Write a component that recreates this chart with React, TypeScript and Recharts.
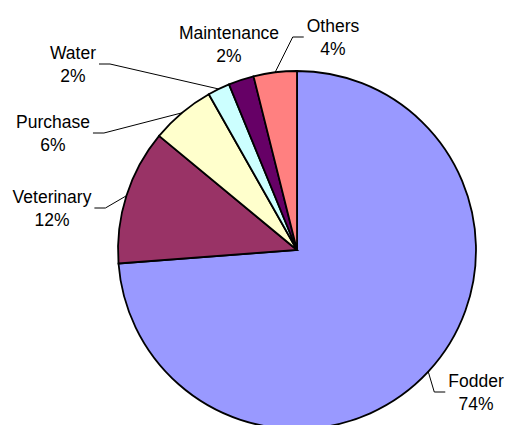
import { PieChart, Pie, Cell } from "recharts";

const categories = ["Fodder", "Veterinary", "Purchase", "Water", "Maintenance", "Others"];
const shares = [73.8, 12.2, 5.8, 2.0, 2.3, 3.9];
const colors = ["#9999FF", "#993366", "#FFFFCC", "#CCFFFF", "#660066", "#FF8080"];

// where Excel's dragged labels ended up, relative to the pie centre
const labelSpots = [
  { dx: 179, dy: 142, leader: true },
  { dx: -245, dy: -42, leader: true },
  { dx: -244, dy: -117, leader: true },
  { dx: -224, dy: -186, leader: true },
  { dx: -68, dy: -206, leader: false },
  { dx: 36, dy: -213, leader: true },
];

const data = categories.map((name, i) => ({ name, value: shares[i] }));

const FONT = "'Liberation Sans', Arial, sans-serif";
const FONT_SIZE = 17.5;

let ctx: CanvasRenderingContext2D | null = null;
function textWidth(s: string) {
  if (!ctx) ctx = document.createElement("canvas").getContext("2d");
  if (!ctx) return s.length * FONT_SIZE * 0.55;
  ctx.font = `${FONT_SIZE}px ${FONT}`;
  return ctx.measureText(s).width;
}

function renderLabel(props: any) {
  const { cx, cy, midAngle, outerRadius, index, percent } = props;
  const spot = labelSpots[index];
  const lx = cx + spot.dx;
  const ly = cy + spot.dy;
  const name = categories[index];
  const pct = `${Math.round(percent * 100)}%`;
  const halfW = Math.max(textWidth(name), textWidth(pct)) / 2;
  const rad = Math.PI / 180;
  const sx = cx + outerRadius * Math.cos(-midAngle * rad);
  const sy = cy + outerRadius * Math.sin(-midAngle * rad);
  const dir = lx > sx ? 1 : -1;
  const ex = lx - dir * (halfW + 3);
  const bx = ex - dir * 11;
  return (
    <g key={`lbl-${index}`}>
      {spot.leader && (
        <polyline
          points={`${sx},${sy} ${bx},${ly} ${ex},${ly}`}
          fill="none"
          stroke="#000"
          strokeWidth={1}
        />
      )}
      <text
        x={lx}
        y={ly - 11.5}
        textAnchor="middle"
        dominantBaseline="central"
        fontFamily={FONT}
        fontSize={FONT_SIZE}
        fill="#000"
      >
        {name}
      </text>
      <text
        x={lx}
        y={ly + 11.5}
        textAnchor="middle"
        dominantBaseline="central"
        fontFamily={FONT}
        fontSize={FONT_SIZE}
        fill="#000"
      >
        {pct}
      </text>
    </g>
  );
}

export default function App() {
  return (
    <div style={{ position: "absolute", left: 0, top: 0, width: 508, height: 425, background: "#fff" }}>
      <PieChart width={508} height={425} margin={{ top: 0, right: 0, bottom: 0, left: 0 }}>
        <Pie
          data={data}
          dataKey="value"
          nameKey="name"
          cx={297}
          cy={250}
          outerRadius={179}
          startAngle={90}
          endAngle={-270}
          stroke="#000"
          strokeWidth={1.8}
          label={renderLabel}
          labelLine={false}
          isAnimationActive={false}
        >
          {data.map((d, i) => (
            <Cell key={d.name} fill={colors[i]} />
          ))}
        </Pie>
      </PieChart>
    </div>
  );
}
